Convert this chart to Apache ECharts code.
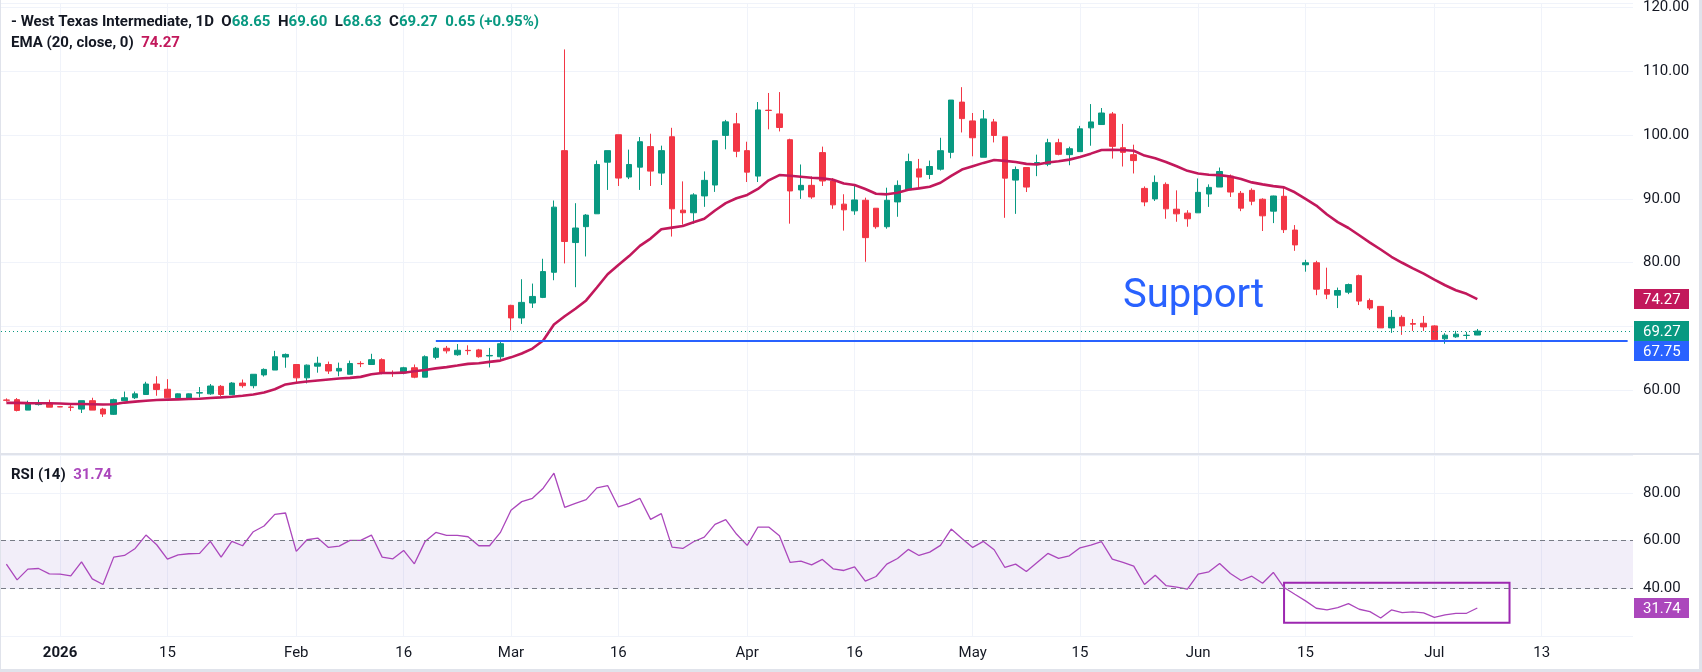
<!DOCTYPE html>
<html>
<head>
<meta charset="utf-8">
<title>West Texas Intermediate, 1D</title>
<script src="https://cdn.jsdelivr.net/npm/echarts@6/dist/echarts.min.js"></script>
<style>
  html, body { margin: 0; padding: 0; background: #fff; }
  #chart { width: 1702px; height: 672px; }
</style>
</head>
<body>
<div id="chart"></div>
<script>
// trading days with a candle
var dates = [
  '2025-12-24','2025-12-26','2025-12-29','2025-12-30','2025-12-31',
  '2026-01-01','2026-01-02','2026-01-05','2026-01-06','2026-01-07','2026-01-08','2026-01-09',
  '2026-01-12','2026-01-13','2026-01-14','2026-01-15','2026-01-16',
  '2026-01-19','2026-01-20','2026-01-21','2026-01-22','2026-01-23',
  '2026-01-26','2026-01-27','2026-01-28','2026-01-29','2026-01-30',
  '2026-02-02','2026-02-03','2026-02-04','2026-02-05','2026-02-06',
  '2026-02-09','2026-02-10','2026-02-11','2026-02-12','2026-02-13',
  '2026-02-16','2026-02-17','2026-02-18','2026-02-19','2026-02-20',
  '2026-02-23','2026-02-24','2026-02-25','2026-02-26','2026-02-27',
  '2026-03-02','2026-03-03','2026-03-04','2026-03-05','2026-03-06',
  '2026-03-09','2026-03-10','2026-03-11','2026-03-12','2026-03-13',
  '2026-03-16','2026-03-17','2026-03-18','2026-03-19','2026-03-20',
  '2026-03-23','2026-03-24','2026-03-25','2026-03-26','2026-03-27',
  '2026-03-30','2026-03-31','2026-04-01','2026-04-02',
  '2026-04-06','2026-04-07','2026-04-08','2026-04-09','2026-04-10',
  '2026-04-13','2026-04-14','2026-04-15','2026-04-16','2026-04-17',
  '2026-04-20','2026-04-21','2026-04-22','2026-04-23','2026-04-24',
  '2026-04-27','2026-04-28','2026-04-29','2026-04-30','2026-05-01',
  '2026-05-04','2026-05-05','2026-05-06','2026-05-07','2026-05-08',
  '2026-05-11','2026-05-12','2026-05-13','2026-05-14','2026-05-15',
  '2026-05-18','2026-05-19','2026-05-20','2026-05-21','2026-05-22',
  '2026-05-25','2026-05-26','2026-05-27','2026-05-28','2026-05-29',
  '2026-06-01','2026-06-02','2026-06-03','2026-06-04','2026-06-05',
  '2026-06-08','2026-06-09','2026-06-10','2026-06-11','2026-06-12',
  '2026-06-15','2026-06-16','2026-06-17','2026-06-18','2026-06-19',
  '2026-06-22','2026-06-23','2026-06-24','2026-06-25','2026-06-26',
  '2026-06-29','2026-06-30','2026-07-01','2026-07-02','2026-07-03',
  '2026-07-06','2026-07-07'
];
// empty space on the right of the last candle
var futureDates = [
  '2026-07-08','2026-07-09','2026-07-10','2026-07-11','2026-07-12','2026-07-13','2026-07-14',
  '2026-07-15','2026-07-16','2026-07-17','2026-07-18','2026-07-19','2026-07-20','2026-07-21'
];

var open = [
  58.47,58.52,56.88,57.75,57.91,57.42,57.36,57.04,58.36,57.04,56.22,58.36,
  58.82,59.33,60.97,60.15,58.82,58.72,59.55,59.43,60.61,59.28,61.12,60.71,62.40,63.16,65.20,
  64.03,61.94,63.77,64.03,63.01,62.50,64.20,64.03,64.79,62.73,62.70,63.52,62.04,65.15,66.58,
  65.56,66.25,66.32,65.38,65.25,73.30,71.33,73.67,74.55,78.49,97.56,83.15,85.64,87.66,95.75,
  100.05,93.42,94.97,98.19,94.04,99.74,88.23,87.82,90.46,92.17,99.95,101.76,97.56,93.57,
  103.90,103.32,99.27,91.40,92.12,97.25,92.80,89.17,88.12,89.78,88.53,85.63,89.52,91.44,94.70,
  93.82,94.65,97.29,105.17,102.22,96.52,102.06,99.73,92.94,94.91,95.38,95.43,98.80,96.93,97.40,
  101.13,101.65,103.31,98.02,96.93,91.64,89.99,92.27,88.38,87.76,87.81,90.76,91.85,93.56,90.87,
  91.34,89.94,88.07,90.40,85.11,79.67,79.98,75.78,74.90,75.37,77.96,74.07,73.14,69.77,71.43,
  70.45,70.50,70.08,68.06,68.37,68.58,68.65
];
var high = [
  58.72,58.77,58.36,58.52,58.52,57.45,57.70,58.36,58.82,57.24,58.67,59.79,
  59.79,61.32,62.19,61.73,59.50,59.50,60.50,60.97,60.81,61.27,61.68,62.50,63.42,66.17,65.76,
  64.03,64.03,65.25,64.49,64.33,64.64,64.54,65.71,65.00,63.11,63.67,64.03,65.46,66.78,66.94,
  67.24,67.04,66.48,66.63,67.55,73.40,77.40,76.72,80.61,89.74,113.43,89.32,87.61,96.01,97.56,
  100.05,97.72,99.69,100.21,98.34,101.14,92.74,90.88,94.30,99.12,102.38,103.47,98.96,105.18,
  106.60,106.74,99.43,95.39,93.52,98.19,93.26,90.72,92.06,90.19,88.53,91.75,92.89,97.09,96.26,
  96.00,99.58,105.49,107.51,103.46,103.93,102.53,99.73,95.07,94.91,96.93,99.42,99.42,98.18,101.44,
  104.86,104.24,103.62,101.75,98.49,91.95,93.67,92.58,91.33,88.22,93.20,92.27,94.91,93.82,91.23,
  91.65,90.09,90.50,91.96,85.89,80.45,80.29,79.21,76.09,76.72,78.12,74.38,73.14,72.57,71.74,
  71.17,71.64,70.18,68.94,69.30,69.15,69.60
];
var low = [
  58.21,56.68,56.88,57.60,57.34,57.35,56.73,56.43,56.88,55.81,56.12,58.36,
  58.62,59.33,59.13,58.82,58.75,58.70,58.87,59.28,59.03,59.28,60.40,60.30,62.14,63.16,63.52,
  61.27,61.07,62.75,62.55,62.19,62.50,63.62,64.03,62.50,62.09,62.50,61.88,62.04,64.84,65.76,
  65.40,65.56,65.10,63.57,64.79,69.37,70.40,72.90,74.44,77.24,79.88,76.15,80.97,87.66,91.40,
  92.02,93.10,91.40,92.02,92.17,84.09,85.95,86.11,88.75,91.09,97.77,96.53,92.64,92.64,
  100.90,100.57,86.11,90.00,90.00,92.02,88.44,85.02,87.50,80.14,85.32,85.32,87.19,91.23,91.64,
  93.10,94.44,96.36,100.41,96.67,96.52,98.85,87.03,87.65,91.07,93.56,95.12,96.83,95.27,97.40,
  98.33,101.60,96.31,95.07,93.98,88.85,89.67,86.88,86.41,85.63,87.81,88.74,91.85,90.30,88.07,
  89.00,84.96,86.20,84.65,81.85,78.58,74.90,74.28,72.88,75.06,73.35,72.57,69.77,68.99,68.68,
  69.30,69.30,67.90,67.28,68.21,68.00,68.63
];
var close = [
  58.42,56.83,57.91,57.85,57.34,57.38,57.32,58.36,56.88,56.27,58.52,58.82,
  59.43,60.97,60.10,58.82,59.43,59.43,59.62,60.66,59.33,61.12,60.71,62.50,63.26,65.25,65.61,
  61.94,63.93,64.23,63.01,63.42,64.18,64.15,64.79,62.70,62.68,63.52,62.04,65.25,66.58,66.17,
  66.27,66.20,65.25,65.45,67.29,71.33,73.77,74.70,78.60,88.70,83.31,85.43,87.45,95.39,97.56,
  93.26,95.39,98.96,94.35,97.56,88.44,87.82,90.62,92.90,99.12,102.07,97.46,94.19,103.94,
  103.85,101.19,91.24,92.12,90.30,92.80,89.06,88.28,89.83,83.92,85.63,89.78,92.11,95.84,93.41,
  95.07,97.55,105.49,102.58,99.58,102.53,99.94,93.25,94.60,91.85,95.69,98.80,96.98,97.86,100.98,
  102.06,103.46,98.23,97.29,96.00,89.52,92.58,88.43,87.65,86.88,91.02,91.80,94.29,91.07,88.54,
  89.63,87.34,90.45,85.17,82.78,79.98,75.84,75.06,75.63,76.56,73.97,72.88,69.77,71.43,70.08,
  70.35,69.93,67.90,68.63,68.79,68.62,69.27
];

// EMA (20, close)
var ema = [
  58.01,58.01,57.98,57.96,57.96,57.91,57.85,57.85,57.80,57.75,57.80,58.06,58.21,58.36,58.47,
  58.52,58.57,58.62,58.67,58.77,58.87,58.98,59.13,59.33,59.64,60.15,60.91,61.17,61.37,61.53,
  61.68,61.83,61.94,62.09,62.50,62.70,62.70,62.75,62.96,63.16,63.42,63.62,63.87,64.13,64.23,
  64.44,64.64,65.15,65.76,66.53,67.80,70.30,71.60,72.78,74.08,76.10,78.18,79.63,81.03,82.63,
  83.77,85.23,85.49,85.74,86.32,86.88,88.18,89.32,90.10,90.62,91.55,92.90,93.73,93.62,93.47,
  93.31,93.21,93.00,92.40,92.16,91.54,90.81,90.71,90.97,91.44,91.64,91.90,92.53,93.61,94.60,
  95.12,95.64,96.10,95.95,95.79,95.48,95.38,95.69,95.90,96.15,96.57,97.09,97.66,97.71,97.66,
  97.55,96.78,96.36,95.79,95.12,94.39,93.98,93.77,93.72,93.51,93.10,92.58,92.27,92.00,91.80,
  91.03,89.99,88.95,87.55,86.36,85.43,84.29,83.15,82.06,80.92,79.98,79.10,78.27,77.34,76.46,
  75.68,75.11,74.27
];

// RSI (14)
var rsi = [
  50.18,43.58,48.07,48.35,46.10,45.96,45.26,51.16,44.00,41.61,53.12,53.82,56.77,62.39,58.32,
  52.28,54.10,54.53,54.67,59.72,53.12,59.72,57.90,63.79,66.18,71.09,71.65,55.51,60.42,61.12,
  57.19,57.75,60.14,60.14,62.39,53.12,52.42,55.93,50.32,59.72,63.51,62.25,62.25,61.68,57.90,
  57.90,63.37,72.80,76.42,77.82,82.04,88.35,74.04,75.72,77.26,82.18,83.16,74.18,75.72,77.82,
  68.98,71.37,57.33,56.77,59.58,61.54,66.88,68.84,62.81,58.04,65.75,65.75,62.11,50.88,51.44,
  49.89,52.14,48.21,47.51,49.05,43.02,44.98,50.18,52.56,56.35,53.82,55.23,58.04,64.91,60.98,
  57.19,59.72,56.21,48.77,50.18,47.09,50.88,54.67,52.56,53.68,57.05,58.18,59.58,52.28,50.88,
  49.33,41.61,45.54,41.19,40.49,39.65,45.96,46.95,50.46,46.25,43.30,45.12,42.18,46.67,40.35,
  37.54,34.74,31.65,30.95,31.93,33.61,31.23,30.25,27.58,30.95,29.82,30.10,29.68,27.86,28.84,
  29.54,29.54,31.74
];

// time axis labels
var tickDates = ['2026-01-01','2026-01-15','2026-02-02','2026-02-16','2026-03-02','2026-03-16','2026-04-01',
  '2026-04-16','2026-05-01','2026-05-15','2026-06-01','2026-06-15','2026-07-01','2026-07-13'];
var tickText = ['2026','15','Feb','16','Mar','16','Apr','16','May','15','Jun','15','Jul','13'];

// drawings
var supportLevel = 67.75;
var supportFrom = '2026-02-19';
var rsiBox = { from: '2026-06-11', to: '2026-07-10', top: 42.4, bottom: 25.6 };

var font = 'Roboto, "Noto Sans", sans-serif';
var allDates = dates.concat(futureDates);
var last = dates.length - 1;
var candles = dates.map(function (d, i) {
  return [open[i], close[i], low[i], high[i]];
});
var chg = close[last] - close[last - 1];
var pct = chg / close[last - 1] * 100;

function isTick(i, v) {
  return tickDates.indexOf(v) >= 0;
}

var chart = echarts.init(document.getElementById('chart'));

var option = {
  animation: false,
  backgroundColor: '#ffffff',
  title: [
    {
      left: 11, top: 13, padding: 0,
      text: '{n|- West Texas Intermediate, 1D  O}{g|' + open[last].toFixed(2) + '}' +
        '{n|  H}{g|' + high[last].toFixed(2) + '}{n|  L}{g|' + low[last].toFixed(2) + '}' +
        '{n|  C}{g|' + close[last].toFixed(2) + '}{g|  ' + chg.toFixed(2) + ' (+' + pct.toFixed(2) + '%)}',
      textStyle: {
        rich: {
          n: { color: '#131722', fontSize: 15, fontFamily: font, lineHeight: 18 },
          g: { color: '#089981', fontSize: 15, fontFamily: font, lineHeight: 18 }
        }
      }
    },
    {
      left: 11, top: 34, padding: 0,
      text: '{n|EMA (20, close, 0)  }{v|' + ema[last].toFixed(2) + '}',
      textStyle: {
        rich: {
          n: { color: '#131722', fontSize: 15, fontFamily: font, lineHeight: 18 },
          v: { color: '#c2185b', fontSize: 15, fontFamily: font, lineHeight: 18 }
        }
      }
    },
    {
      left: 11, top: 466, padding: 0,
      text: '{n|RSI (14)  }{v|' + rsi[last].toFixed(2) + '}',
      textStyle: {
        rich: {
          n: { color: '#131722', fontSize: 15, fontFamily: font, lineHeight: 18 },
          v: { color: '#ab47bc', fontSize: 15, fontFamily: font, lineHeight: 18 }
        }
      }
    },
    {
      left: 1123, top: 277, padding: 0,
      text: 'Support',
      textStyle: { color: '#2962ff', fontSize: 40, fontWeight: 'normal', fontFamily: font, lineHeight: 40 }
    }
  ],
  grid: [
    { left: 1, right: 69, top: 0, height: 454 },
    { left: 1, right: 69, top: 455, height: 181 }
  ],
  xAxis: [
    {
      type: 'category', gridIndex: 0, data: allDates,
      axisLine: { show: false }, axisTick: { show: false }, axisLabel: { show: false },
      splitLine: { show: true, interval: isTick, alignWithLabel: true, lineStyle: { color: '#f0f3fa' } }
    },
    {
      type: 'category', gridIndex: 1, data: allDates,
      axisLine: { show: false }, axisTick: { show: false },
      axisLabel: {
        interval: isTick, margin: 10, color: '#131722', fontSize: 15, fontFamily: font,
        formatter: function (v) {
          var t = tickText[tickDates.indexOf(v)];
          return t === '2026' ? '{b|' + t + '}' : t;
        },
        rich: { b: { fontWeight: 'bold', color: '#131722', fontSize: 15, fontFamily: font } }
      },
      splitLine: { show: true, interval: isTick, alignWithLabel: true, lineStyle: { color: '#f0f3fa' } }
    }
  ],
  yAxis: [
    {
      type: 'value', gridIndex: 0, position: 'right', min: 50, max: 120.6, interval: 10,
      axisLine: { show: false }, axisTick: { show: false },
      axisLabel: {
        margin: 10, color: '#131722', fontSize: 15, fontFamily: font,
        formatter: function (v) {
          if (Math.abs(v % 10) > 0.001 || v === 50 || v === 70) return '';
          return v.toFixed(2);
        }
      },
      splitLine: { lineStyle: { color: '#f0f3fa' } }
    },
    {
      type: 'value', gridIndex: 1, position: 'right', min: 20, max: 96, interval: 20,
      axisLine: { show: false }, axisTick: { show: false },
      axisLabel: {
        margin: 10, color: '#131722', fontSize: 15, fontFamily: font,
        formatter: function (v) {
          if (Math.abs(v % 20) > 0.001 || v === 20) return '';
          return v.toFixed(2);
        }
      },
      splitLine: { lineStyle: { color: '#f0f3fa' } }
    }
  ],
  series: [
    {
      name: 'WTI', type: 'candlestick', xAxisIndex: 0, yAxisIndex: 0,
      data: candles, barWidth: 6,
      itemStyle: {
        color: '#089981', color0: '#f23645',
        borderColor: '#089981', borderColor0: '#f23645', borderWidth: 1
      },
      markLine: {
        silent: true, symbol: 'none', label: { show: false },
        data: [
          { yAxis: close[last], lineStyle: { color: '#089981', type: [1, 3], width: 1 } },
          [
            { coord: [supportFrom, supportLevel], lineStyle: { color: '#2962ff', type: 'solid', width: 2 } },
            { coord: [allDates[allDates.length - 1], supportLevel], lineStyle: { color: '#2962ff', type: 'solid', width: 2 } }
          ]
        ]
      }
    },
    {
      name: 'EMA', type: 'line', xAxisIndex: 0, yAxisIndex: 0,
      data: ema, symbol: 'none', z: 3,
      lineStyle: { color: '#c2185b', width: 2.6 }
    },
    {
      name: 'RSI', type: 'line', xAxisIndex: 1, yAxisIndex: 1,
      data: rsi, symbol: 'none', z: 3,
      lineStyle: { color: '#ab47bc', width: 1.3 },
      markArea: {
        silent: true,
        data: [
          [{ yAxis: 40, itemStyle: { color: 'rgba(126,87,194,0.1)' } }, { yAxis: 60 }],
          [
            { coord: [rsiBox.from, rsiBox.top], itemStyle: { color: 'rgba(0,0,0,0)', borderColor: '#9c27b0', borderWidth: 2 } },
            { coord: [rsiBox.to, rsiBox.bottom] }
          ]
        ]
      },
      markLine: {
        silent: true, symbol: 'none', label: { show: false },
        lineStyle: { color: '#787b86', type: [5, 4], width: 1 },
        data: [{ yAxis: 40 }, { yAxis: 60 }]
      }
    }
  ]
};

chart.setOption(option);

// price scale tags and frame
var tags = [
  { value: ema[last], color: '#c2185b', axis: 0 },
  { value: close[last], color: '#089981', axis: 0 },
  { value: supportLevel, color: '#2962ff', axis: 0 },
  { value: rsi[last], color: '#ab47bc', axis: 1 }
];
var tagH = 20;
tags.forEach(function (t) {
  t.y = chart.convertToPixel({ yAxisIndex: t.axis }, t.value);
});
// push overlapping tags on the main scale downwards
var mainTags = tags.filter(function (t) { return t.axis === 0; }).sort(function (a, b) { return a.y - b.y; });
for (var k = 1; k < mainTags.length; k++) {
  if (mainTags[k].y < mainTags[k - 1].y + tagH) mainTags[k].y = mainTags[k - 1].y + tagH;
}

var gfx = [
  { type: 'rect', shape: { x: 0, y: 453, width: 1702, height: 2 }, style: { fill: '#e0e3eb' }, z: 10 },
  { type: 'rect', shape: { x: 1699, y: 0, width: 3, height: 672 }, style: { fill: '#e0e3eb' }, z: 10 },
  { type: 'rect', shape: { x: 0, y: 669, width: 1702, height: 3 }, style: { fill: '#e0e3eb' }, z: 10 },
  { type: 'rect', shape: { x: 0, y: 0, width: 1, height: 672 }, style: { fill: '#e0e3eb' }, z: 10 }
];
tags.forEach(function (t) {
  gfx.push({
    type: 'rect', z: 20,
    shape: { x: 1634, y: Math.round(t.y - tagH / 2), width: 55, height: tagH },
    style: { fill: t.color }
  });
  gfx.push({
    type: 'text', z: 21,
    x: 1643, y: Math.round(t.y) + 1,
    style: { text: t.value.toFixed(2), fill: '#ffffff', font: '15px ' + font, verticalAlign: 'middle' }
  });
});
chart.setOption({ graphic: gfx });
</script>
</body>
</html>
